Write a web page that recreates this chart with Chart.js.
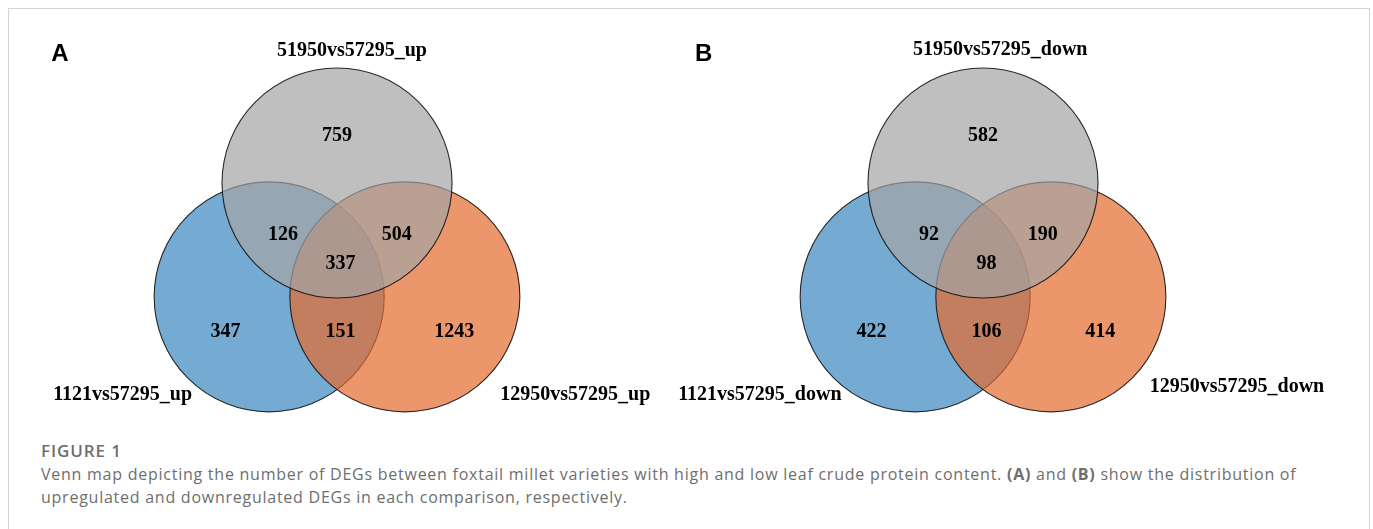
<!DOCTYPE html>
<html>
<head>
<meta charset="utf-8">
<script src="https://cdn.jsdelivr.net/npm/chart.js@4.4.1/dist/chart.umd.min.js"></script>
<style>
  body { margin: 0; background: #fff; width: 1373px; height: 529px; overflow: hidden; }
  .frame { position: absolute; left: 8px; top: 8px; width: 1360px; height: 540px; border: 1px solid #d4d4d4; }
  canvas { position: absolute; top: 9px; }
  #vennA { left: 8px; }
  #vennB { left: 674px; }
  .caption { position: absolute; left: 41px; top: 439px; width: 1320px; font-family: "Open Sans", sans-serif; color: #6e6e6e; }
  .caption .fig { font-size: 17px; font-weight: 600; line-height: 24px; letter-spacing: 0.9px; }
  .caption p { margin: 0; font-size: 16px; line-height: 22.5px; letter-spacing: 0.75px; }
</style>
</head>
<body>
<div class="frame"></div>
<canvas id="vennA" width="666" height="411"></canvas>
<canvas id="vennB" width="694" height="411"></canvas>
<div class="caption">
  <div class="fig">FIGURE 1</div>
  <p>Venn map depicting the number of DEGs between foxtail millet varieties with high and low leaf crude protein content. <b>(A)</b> and <b>(B)</b> show the distribution of<br>upregulated and downregulated DEGs in each comparison, respectively.</p>
</div>
<script>
// sets, in drawing order: 1121 (blue), 12950 (orange), 51950 (grey, on top)
const setNamesA = ['1121vs57295_up', '12950vs57295_up', '51950vs57295_up'];
const setNamesB = ['1121vs57295_down', '12950vs57295_down', '51950vs57295_down'];
// region order: 1121 only, 12950 only, 51950 only, 1121&51950, 12950&51950, 1121&12950, all three
const countsA = [347, 1243, 759, 126, 504, 151, 337];
const countsB = [422, 414, 582, 92, 190, 106, 98];

// layout of a 3-set venn, radius = 1 unit, grey circle centred at 0,0
const circleCentres = [{x: -0.59, y: -0.99}, {x: 0.59, y: -0.99}, {x: 0, y: 0}];
const regionPos = [[-0.97, -1.29], [1.02, -1.29], [0, 0.41], [-0.47, -0.45], [0.52, -0.45], [0.03, -1.29], [0.03, -0.70]];
const fillColors = ['rgba(58,136,191,0.7)', 'rgba(228,105,45,0.7)', 'rgba(164,164,164,0.7)'];

function makeVenn(canvasId, tag, names, counts, lay) {
    const labelPlugin = {
        id: 'vennText',
        afterDatasetsDraw(chart) {
            const c = chart.ctx, sx = chart.scales.x, sy = chart.scales.y;
            const px = v => sx.getPixelForValue(v), py = v => sy.getPixelForValue(v);
            c.save();
            c.fillStyle = '#000';
            c.textBaseline = 'middle';
            // region counts
            c.font = 'bold 20px "Liberation Serif", "Times New Roman", serif';
            c.textAlign = 'center';
            counts.forEach((n, i) => c.fillText(n, px(regionPos[i][0]), py(regionPos[i][1])));
            // set names
            c.textAlign = 'center';
            c.fillText(names[2], px(lay.top[0]), py(lay.top[1]));
            c.textAlign = 'right';
            c.fillText(names[0], px(lay.left[0]), py(lay.left[1]));
            c.textAlign = 'left';
            c.fillText(names[1], px(lay.right[0]), py(lay.right[1]));
            // panel tag
            c.font = 'bold 24px "Liberation Sans", Arial, sans-serif';
            c.textAlign = 'center';
            c.fillText(tag, px(lay.tag[0]), py(lay.tag[1]));
            c.restore();
        }
    };

    return new Chart(document.getElementById(canvasId), {
        type: 'scatter',
        data: {
            datasets: [{
                label: 'sets',
                data: circleCentres,
                backgroundColor: fillColors,
                borderColor: 'rgba(20,20,20,0.9)',
                borderWidth: 1.1,
                // radius of one unit
                pointRadius: ctx => {
                    const s = ctx.chart.scales.x;
                    return Math.abs(s.getPixelForValue(1) - s.getPixelForValue(0));
                },
                pointHoverRadius: ctx => {
                    const s = ctx.chart.scales.x;
                    return Math.abs(s.getPixelForValue(1) - s.getPixelForValue(0));
                },
                clip: false
            }]
        },
        options: {
            responsive: false,
            animation: false,
            events: [],
            layout: { padding: 0 },
            plugins: { legend: { display: false }, tooltip: { enabled: false } },
            scales: {
                x: { type: 'linear', display: false, min: lay.xMin, max: lay.xMax },
                y: { type: 'linear', display: false, min: lay.yMin, max: lay.yMax }
            }
        },
        plugins: [labelPlugin]
    });
}

// axis ranges keep 115px per unit on both axes
makeVenn('vennA', 'A', setNamesA, countsA, {
    xMin: -2.861, xMax: -2.861 + 666 / 115, yMin: 1.513 - 411 / 115, yMax: 1.513,
    top: [0.13, 1.15], left: [-1.26, -1.84], right: [1.42, -1.84], tag: [-2.41, 1.12]
});
makeVenn('vennB', 'B', setNamesB, countsB, {
    xMin: -2.687, xMax: -2.687 + 694 / 115, yMin: 1.513 - 411 / 115, yMax: 1.513,
    top: [0.15, 1.16], left: [-1.23, -1.84], right: [1.45, -1.77], tag: [-2.43, 1.12]
});
</script>
</body>
</html>
